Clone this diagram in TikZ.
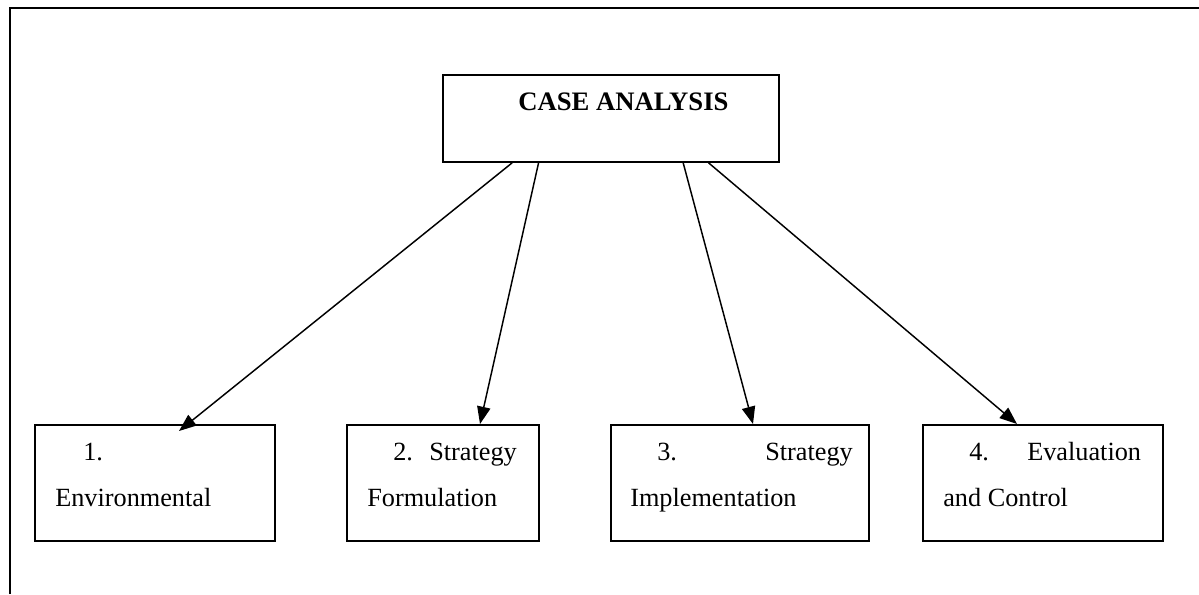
\documentclass[tikz,border=0pt]{standalone}
\usepackage{fontspec}
\setmainfont{Liberation Serif}
\usetikzlibrary{arrows.meta,calc}

\tikzset{
  box/.style={draw, line width=1.3pt, inner sep=0pt, anchor=north west},
  txt/.style={anchor=base west, inner sep=0pt, font=\fontsize{19.7}{23}\selectfont},
  link/.style={line width=1.1pt, -{Triangle[length=13pt,width=10pt]}}
}

\begin{document}
\begin{tikzpicture}[x=0.75pt,y=0.75pt,yscale=-1]
\useasboundingbox (0,0) rectangle (1199,594);

%Frame (left and top only)
\draw [line width=1.5pt] (10,594) -- (10,8) -- (1199,8) ;

%Boxes
\node (case) [box, minimum width=252pt, minimum height=65.25pt] at (442,74) {};
\node (env)  [box, minimum width=180pt, minimum height=87pt] at (34,424) {};
\node (form) [box, minimum width=144pt, minimum height=87pt] at (346,424) {};
\node (impl) [box, minimum width=193.5pt, minimum height=87pt] at (610,424) {};
\node (eval) [box, minimum width=180pt, minimum height=87pt] at (922,424) {};

% Text Node
\node (title) [anchor=base west, inner sep=0pt, font=\fontsize{20}{24}\selectfont\bfseries] at (518,110) {CASE ANALYSIS};
% Text Node
\node (n1) [txt] at (83,460) {1.};
\node (t1) [txt] at (55,506) {Environmental};
% Text Node
\node (n2) [txt] at (393,460) {2.};
\node (s2) [txt] at (429,460) {Strategy};
\node (t2) [txt] at (367,506) {Formulation};
% Text Node
\node (n3) [txt] at (657,460) {3.};
\node (s3) [txt] at (765,460) {Strategy};
\node (t3) [txt] at (630,506) {Implementation};
% Text Node
\node (n4) [txt] at (969,460) {4.};
\node (s4) [txt] at (1027,460) {Evaluation};
\node (t4) [txt] at (943,506) {and Control};

%Arrow ends
\coordinate (e1) at (179,431);
\coordinate (e2) at (480,424);
\coordinate (e3) at (753,424);
\coordinate (e4) at (1017,424);

%Arrows
\draw [link] ($(case.south west)!0.208!(case.south east)$) -- (e1) ;
\draw [link] ($(case.south west)!0.286!(case.south east)$) -- (e2) ;
\draw [link] ($(case.south west)!0.714!(case.south east)$) -- (e3) ;
\draw [link] ($(case.south west)!0.789!(case.south east)$) -- (e4) ;
\end{tikzpicture}
\end{document}
